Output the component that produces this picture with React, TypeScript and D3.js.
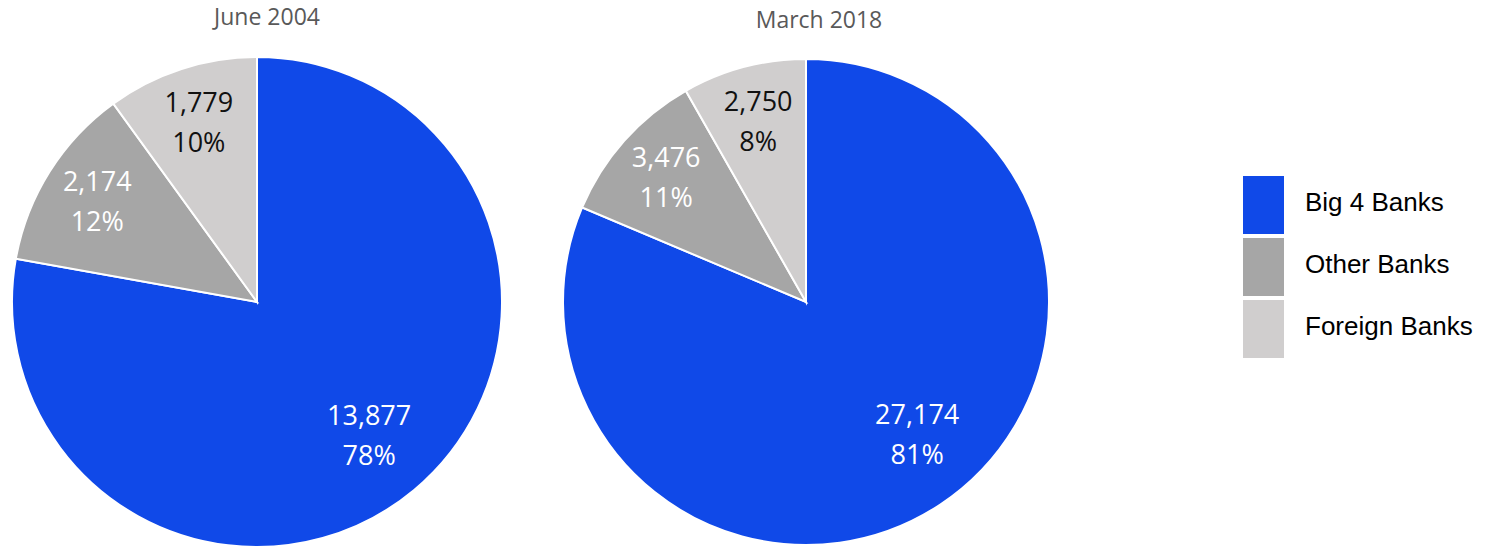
import React from "react";
import * as d3 from "d3";

const categories = ["Big 4 Banks", "Other Banks", "Foreign Banks"];
const colors = ["#1049E8", "#A6A6A6", "#D0CECE"];
const labelColors = ["#FFFFFF", "#FFFFFF", "#111111"];
const titles = ["June 2004", "March 2018"];
const values2004 = [13877, 2174, 1779];
const percents2004 = [78, 12, 10];
const values2018 = [27174, 3476, 2750];
const percents2018 = [81, 11, 8];

const W = 1490;
const H = 547;
const pies = [
  { title: titles[0], values: values2004, percents: percents2004, cx: 257, cy: 302, r: 245, tx: 267, ty: 25 },
  { title: titles[1], values: values2018, percents: percents2018, cx: 806, cy: 302, r: 243, tx: 819, ty: 28 },
];

const fmt = d3.format(",");
const labelFont = "'Open Sans', 'Noto Sans', sans-serif";
const MAX_BIG_ANGLE = (140 * Math.PI) / 180;

function Pie({ p }: { p: typeof pies[number] }) {
  const arcs = d3
    .pie<number>()
    .sort(null)
    .startAngle(0)
    .endAngle(2 * Math.PI)(p.values);
  const arc = d3.arc<d3.PieArcDatum<number>>().innerRadius(0).outerRadius(p.r);
  return (
    <g>
      <text
        x={p.tx}
        y={p.ty}
        textAnchor="middle"
        fontFamily={labelFont}
        fontSize={23}
        fill="#595959"
      >
        {p.title}
      </text>
      <g transform={`translate(${p.cx},${p.cy})`}>
        {arcs.map((a, i) => (
          <path key={i} d={arc(a) || ""} fill={colors[i]} stroke="#fff" strokeWidth={2} />
        ))}
        {arcs.map((a, i) => {
          let mid = (a.startAngle + a.endAngle) / 2;
          if (i === 0) mid = Math.min(mid, MAX_BIG_ANGLE);
          const lr = p.r * (i === 0 ? 0.712 : 0.77);
          const x = Math.sin(mid) * lr;
          const y = -Math.cos(mid) * lr;
          return (
            <text
              key={"l" + i}
              textAnchor="middle"
              fontFamily={labelFont}
              fontSize={27}
              fill={labelColors[i]}
            >
              <tspan x={x} y={y - 10.5}>{fmt(a.value)}</tspan>
              <tspan x={x} y={y + 29.5}>{p.percents[i] + "%"}</tspan>
            </text>
          );
        })}
      </g>
    </g>
  );
}

export default function App() {
  return (
    <div style={{ position: "absolute", left: 0, top: 0 }}>
      <svg width={W} height={H} style={{ display: "block", background: "#fff" }}>
        {pies.map((p, i) => (
          <Pie key={i} p={p} />
        ))}
        <g>
          {categories.map((c, i) => (
            <g key={c}>
              <rect x={1243} y={176 + i * 62} width={41} height={58} fill={colors[i]} />
              <text
                x={1305}
                y={211 + i * 62}
                fontFamily="'Liberation Sans', Arial, sans-serif"
                fontSize={26}
                fill="#000"
              >
                {c}
              </text>
            </g>
          ))}
        </g>
      </svg>
    </div>
  );
}
